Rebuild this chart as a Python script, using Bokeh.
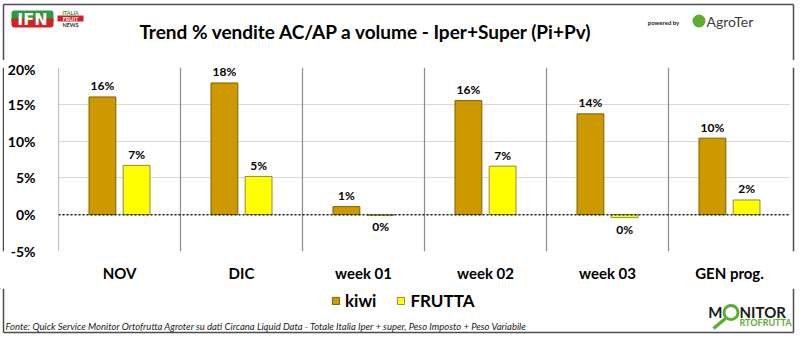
from bokeh.plotting import figure
from bokeh.layouts import column, row
from bokeh.models import (ColumnDataSource, FactorRange, Range1d, FixedTicker, PrintfTickFormatter,
                          Span, LabelSet, Label, BoxAnnotation, Legend, LegendItem)
from bokeh.core.properties import value
from bokeh.transform import dodge
from bokeh.embed import file_html
from bokeh.resources import INLINE

# ---- data ----
categories = ["NOV", "DIC", "week 01", "week 02", "week 03", "GEN prog."]
kiwi = [16.0, 17.9, 1.1, 15.5, 13.7, 10.4]
frutta = [6.7, 5.2, -0.1, 6.6, -0.4, 2.0]
y_ticks = [-5, 0, 5, 10, 15, 20]
series_names = ["kiwi", "FRUTTA"]

title_text = "Trend % vendite AC/AP a volume -  Iper+Super (Pi+Pv)"
footer_text = ("Fonte: Quick Service Monitor Ortofrutta Agroter su dati Circana Liquid Data - "
               "Totale Italia Iper + super, Peso Imposto + Peso Variabile")

KIWI_FILL, KIWI_LINE = "#CC9900", "#7F6000"
FR_FILL, FR_LINE = "#FFFF00", "#8C8C40"
BORDER = "#4D4D4D"
GREEN = "#5AAE32"
FONT = "Lato"

W, H = 800, 338
HEAD_H = 60          # header band: y 0..60
FOOT_TOP = 288       # footer band: y 288..338
BL, BR, BT, BB = 3, 793, 4, 332   # outer border (canvas px)
FL, FR_, FT, FB = 52, 790, 67, 251  # plot frame (canvas px)
MAIN_X0 = 4


def pct(v):
    return f"{int(round(v))}%"


def blank(width, height, x0, x1, y0, y1):
    f = figure(width=width, height=height, output_backend="svg", toolbar_location=None,
               x_range=Range1d(x0, x1), y_range=Range1d(y1, y0),
               x_axis_type=None, y_axis_type=None, min_border=0)
    f.min_border_left = f.min_border_right = f.min_border_top = f.min_border_bottom = 0
    f.outline_line_color = None
    f.xgrid.visible = False
    f.ygrid.visible = False
    f.background_fill_color = "white"
    f.border_fill_color = "white"
    return f


def lab(f, text, x, y, size, color="black", style="bold", align="left", baseline="middle", font=FONT):
    f.add_layout(Label(x=x, y=y, text=text, text_font=font, text_font_size=f"{size}px",
                       text_font_style=style, text_color=color, text_align=align,
                       text_baseline=baseline))


def box(f, l, t, r, b, fill=None, line=None, lw=1, radius=0):
    f.add_layout(BoxAnnotation(left=l, right=r, top=t, bottom=b,
                               fill_color=fill if fill else "white", fill_alpha=1 if fill else 0,
                               line_color=line if line else "white", line_width=lw,
                               line_alpha=1 if line else 0, border_radius=int(radius)))


# ---------------- header ----------------
head = blank(W, HEAD_H, 0, W, 0, HEAD_H)
head.segment(x0=[BL, BL, BR], y0=[BT, BT, BT], x1=[BR, BL, BR], y1=[BT, HEAD_H, HEAD_H],
             line_color=BORDER, line_width=1.5)
lab(head, title_text, 368, 31, 19, align="center")
# IFN logo
box(head, 11, 10, 53, 18, fill="#2E9A3E", radius=3)
box(head, 11, 18, 53, 27, fill="#D62027", radius=3)
box(head, 11, 16, 53, 21, fill="#2E9A3E")
box(head, 11, 18, 53, 21, fill="#D62027")
lab(head, "IFN", 32, 19, 16, color="white", align="center", font="DejaVu Sans")
lab(head, "ITALIA", 70, 12, 5.5, color="#2E9A3E", align="center")
box(head, 57, 15, 83, 21, fill="#D62027")
lab(head, "FRUIT", 70, 18, 5.5, color="white", align="center")
lab(head, "NEWS", 70, 24.5, 5.5, color="#333333", align="center")
# AgroTer logo
lab(head, "powered by", 663, 22, 6, color="#222222", align="center")
head.circle(x=[698.5], y=[20.5], radius=6.5, fill_color=GREEN, line_color=None)
lab(head, "AgroTer", 706, 21, 14, color="#3C3C3C", style="normal")

# ---------------- main plot ----------------
src = ColumnDataSource(dict(
    cat=categories, kiwi=kiwi, frutta=frutta,
    kiwi_lbl=[pct(v) for v in kiwi], frutta_lbl=[pct(v) for v in frutta],
    kiwi_off=[11 if v > 0 else -11.5 for v in kiwi],
    frutta_off=[11 if v > 0 else -11.5 for v in frutta],
))

MAIN_W = FR_ - MAIN_X0
MAIN_H = FOOT_TOP - HEAD_H
p = figure(width=MAIN_W, height=MAIN_H, output_backend="svg", toolbar_location=None,
           x_range=FactorRange(factors=categories), y_range=Range1d(y_ticks[0], y_ticks[-1]),
           min_border_left=FL - MAIN_X0, min_border_right=0,
           min_border_top=FT - HEAD_H, min_border_bottom=FOOT_TOP - FB)
p.outline_line_color = None
p.background_fill_color = "white"
p.border_fill_color = "white"

p.yaxis.ticker = FixedTicker(ticks=y_ticks)
p.yaxis.formatter = PrintfTickFormatter(format="%d%%")
p.yaxis.axis_line_color = None
p.yaxis.major_tick_line_color = None
p.yaxis.minor_tick_line_color = None
p.yaxis.major_label_standoff = 17
p.yaxis.major_label_text_font = FONT
p.yaxis.major_label_text_font_style = "bold"
p.yaxis.major_label_text_font_size = "14px"
p.yaxis.major_label_text_color = "black"

p.xaxis.axis_line_color = None
p.xaxis.major_tick_line_color = None
p.xaxis.minor_tick_line_color = None
p.xaxis.major_label_standoff = 6
p.xaxis.major_label_text_font = FONT
p.xaxis.major_label_text_font_style = "bold"
p.xaxis.major_label_text_font_size = "15px"
p.xaxis.major_label_text_color = "black"

p.ygrid.ticker = FixedTicker(ticks=y_ticks)
p.ygrid.grid_line_color = "#D9D9D9"
p.xgrid.grid_line_color = None

for i in range(0, len(categories)):
    p.add_layout(Span(location=i, dimension="height", line_color="#8C8C8C", line_width=1.2))

rk = p.vbar(x=dodge("cat", -0.14, range=p.x_range), top="kiwi", bottom=0, width=0.22, source=src,
            fill_color=KIWI_FILL, line_color=KIWI_LINE, line_width=1)
rf = p.vbar(x=dodge("cat", 0.14, range=p.x_range), top="frutta", bottom=0, width=0.22, source=src,
            fill_color=FR_FILL, line_color=FR_LINE, line_width=1)

p.add_layout(Span(location=0, dimension="width", line_color="#222222", line_width=1.6, line_dash="2 2"))

for off, txt, yoff, col in [(-0.14, "kiwi_lbl", "kiwi_off", "kiwi"),
                            (0.14, "frutta_lbl", "frutta_off", "frutta")]:
    p.add_layout(LabelSet(x=dodge("cat", off, range=p.x_range), y=col, text=txt, y_offset=yoff,
                          source=src, text_align="center", text_baseline="middle",
                          text_font=value(FONT), text_font_style="bold", text_font_size="12px",
                          text_color="black"))

# side strips carrying the outer border
left_strip = blank(MAIN_X0, MAIN_H, 0, MAIN_X0, HEAD_H, FOOT_TOP)
left_strip.segment(x0=[BL], y0=[HEAD_H], x1=[BL], y1=[FOOT_TOP], line_color=BORDER, line_width=1.5)
right_strip = blank(W - FR_, MAIN_H, FR_, W, HEAD_H, FOOT_TOP)
right_strip.segment(x0=[BR], y0=[HEAD_H], x1=[BR], y1=[FOOT_TOP], line_color=BORDER, line_width=1.5)

# ---------------- footer ----------------
foot = blank(W, H - FOOT_TOP, 0, W, FOOT_TOP, H)
foot.segment(x0=[BL, BL, BR], y0=[BB, FOOT_TOP, FOOT_TOP], x1=[BR, BL, BR], y1=[BB, BB, BB],
             line_color=BORDER, line_width=1.5)
# legend swatches (renderers placed off-view, used only for the legend glyphs)
lk = foot.vbar(x=[-1000], top=[-1000], width=1, fill_color=KIWI_FILL, line_color=KIWI_LINE)
lf = foot.vbar(x=[-1000], top=[-1000], width=1, fill_color=FR_FILL, line_color=FR_LINE)
leg = Legend(items=[LegendItem(label=series_names[0], renderers=[lk]),
                    LegendItem(label=series_names[1], renderers=[lf])],
             location=(331, H - 311), orientation="horizontal",
             glyph_width=9, glyph_height=9, label_standoff=5, spacing=20, padding=0, margin=0,
             border_line_color=None, background_fill_alpha=0,
             label_text_font=FONT, label_text_font_style="bold", label_text_font_size="17px",
             label_text_color="black")
foot.add_layout(leg, "center")
lab(foot, footer_text, 5, 325.5, 9.5, color="#1A1A1A", style="italic")
# Monitor Ortofrutta logo
lab(foot, "M", 722, 311, 15, color="#1A1A1A", align="right", font="Lato")
foot.circle(x=[730.5], y=[312], radius=7, fill_color=None, line_color=GREEN, line_width=3)
foot.segment(x0=[725], y0=[318], x1=[713], y1=[328], line_color=GREEN, line_width=3.5)
lab(foot, "NITOR", 739, 311, 15, color="#1A1A1A", font="Lato")
lab(foot, "RTOFRUTTA", 739, 322, 9, color=GREEN, font="Lato")

layout = column(head, row(left_strip, p, right_strip, spacing=0), foot, spacing=0)
open("out.html", "w").write(file_html(layout, INLINE))
